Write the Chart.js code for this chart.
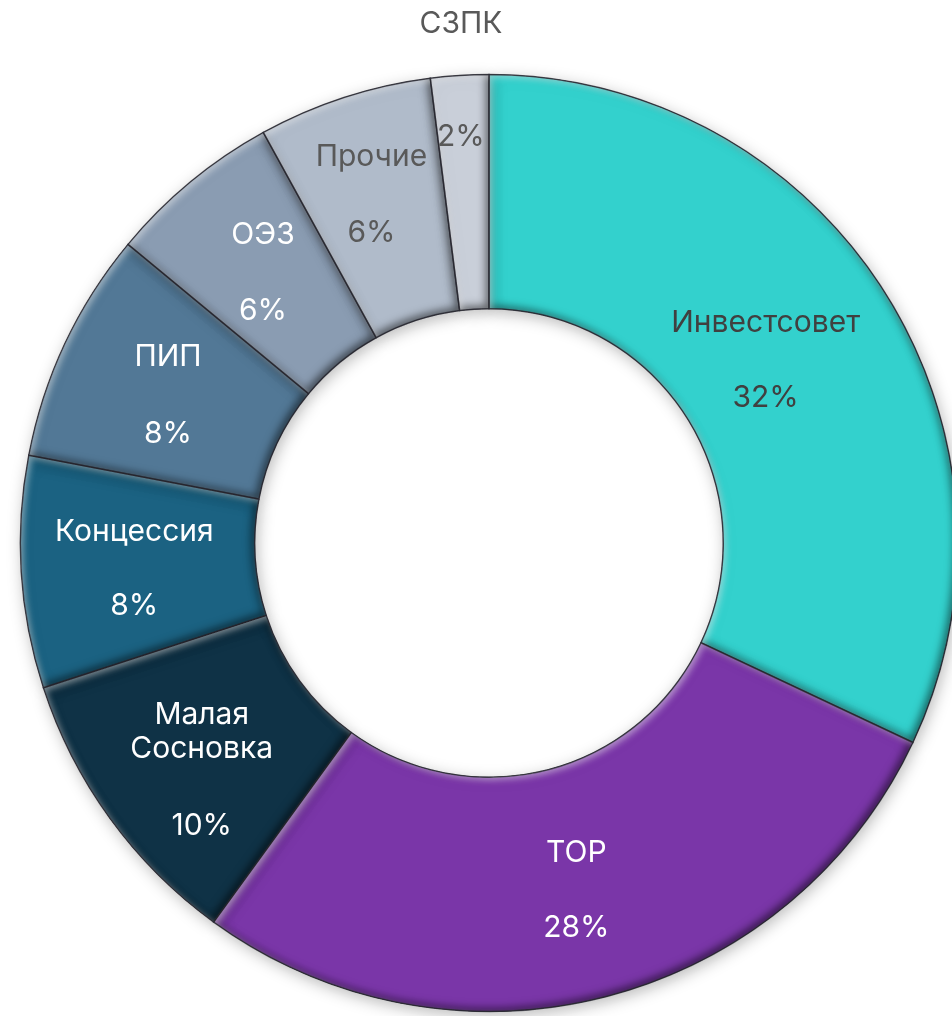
<!DOCTYPE html>
<html>
<head>
<meta charset="utf-8">
<script src="https://cdn.jsdelivr.net/npm/chart.js@4.4.1/dist/chart.umd.min.js"></script>
<style>
  html, body { margin: 0; padding: 0; background: #ffffff; overflow: hidden; }
  #wrap { position: relative; width: 970px; height: 1016px; }
</style>
</head>
<body>
<div id="wrap"><canvas id="chart"></canvas></div>
<script>
// ---- data ----
const categories = ['Инвестсовет', 'ТОР', 'Малая\nСосновка', 'Концессия', 'ПИП', 'ОЭЗ', 'Прочие', 'СЗПК'];
const shares = [32, 28, 10, 8, 8, 6, 6, 2];
const percentLabels = ['32%', '28%', '10%', '8%', '8%', '6%', '6%', '2%'];

// ---- styles ----
const sliceColors = ['#33D1CD', '#7A36A8', '#0F3246', '#1B6282', '#527896', '#8A9CB2', '#B0BBCA', '#C9CFD9'];
const textColors = ['#404040', '#ffffff', '#ffffff', '#ffffff', '#ffffff', '#ffffff', '#595959', '#595959'];
// label placement relative to arc centre (style, not data)
const labelPlace = [
  { dx: -20, nameDy: -32, pctDy: 43 },
  { dx: 0, nameDy: -30, pctDy: 45 },
  { dx: -3, nameDy: -35, pctDy: 76 },
  { dx: -4, nameDy: -33, pctDy: 41 },
  { dx: -3, nameDy: -36, pctDy: 41 },
  { dx: -2, nameDy: -37, pctDy: 39 },
  { dx: -9, nameDy: -52, pctDy: 24 },
  { dx: -6, nameDy: -168, pctDy: -55 }
];
const FONT = '30px Inter, "Noto Sans", sans-serif';

function addArc(ctx, a) {
  ctx.moveTo(a.x + a.outerRadius * Math.cos(a.startAngle), a.y + a.outerRadius * Math.sin(a.startAngle));
  ctx.arc(a.x, a.y, a.outerRadius, a.startAngle, a.endAngle, false);
  ctx.arc(a.x, a.y, a.innerRadius, a.endAngle, a.startAngle, true);
  ctx.closePath();
}

const bevelPlugin = {
  id: 'bevel',
  beforeDatasetsDraw(chart) {
    const ctx = chart.ctx;
    ctx.save();
    ctx.shadowColor = 'rgba(0,0,0,0.28)';
    ctx.shadowBlur = 16;
    ctx.shadowOffsetX = 2;
    ctx.shadowOffsetY = 4;
  },
  afterDatasetsDraw(chart) {
    const ctx = chart.ctx;
    ctx.restore();
    const arcs = chart.getDatasetMeta(0).data;
    arcs.forEach(el => {
      const a = el.getProps(['x', 'y', 'startAngle', 'endAngle', 'innerRadius', 'outerRadius'], true);
      const passes = [
        { color: 'rgba(0,0,0,0.55)', ox: -3, oy: -3, blur: 9 },
        { color: 'rgba(255,255,255,0.45)', ox: 3, oy: 3, blur: 6 }
      ];
      passes.forEach(p => {
        ctx.save();
        ctx.beginPath();
        addArc(ctx, a);
        ctx.clip();
        ctx.beginPath();
        ctx.rect(-2000, -2000, 5000, 5000);
        addArc(ctx, a);
        ctx.shadowColor = p.color;
        ctx.shadowBlur = p.blur;
        ctx.shadowOffsetX = p.ox;
        ctx.shadowOffsetY = p.oy;
        ctx.fillStyle = '#000';
        ctx.fill('evenodd');
        ctx.restore();
      });
      ctx.save();
      ctx.beginPath();
      addArc(ctx, a);
      ctx.lineWidth = 1.5;
      ctx.strokeStyle = 'rgba(40,40,50,0.7)';
      ctx.stroke();
      ctx.restore();
    });
  }
};

const labelPlugin = {
  id: 'sliceLabels',
  afterDraw(chart) {
    const ctx = chart.ctx;
    const arcs = chart.getDatasetMeta(0).data;
    ctx.save();
    ctx.font = FONT;
    ctx.textAlign = 'center';
    ctx.textBaseline = 'middle';
    arcs.forEach((el, i) => {
      const c = el.tooltipPosition(true);
      const pl = labelPlace[i];
      const x = c.x + pl.dx;
      ctx.fillStyle = textColors[i];
      const lines = chart.data.labels[i].split('\n');
      lines.forEach((ln, k) => {
        ctx.fillText(ln, x, c.y + pl.nameDy + k * 34);
      });
      ctx.fillText(percentLabels[i], x, c.y + pl.pctDy);
    });
    ctx.restore();
  }
};

new Chart(document.getElementById('chart'), {
  type: 'doughnut',
  data: {
    labels: categories,
    datasets: [{
      data: shares,
      backgroundColor: sliceColors,
      borderColor: 'rgba(60,60,70,0.6)',
      borderWidth: 1,
      hoverOffset: 0
    }]
  },
  options: {
    responsive: true,
    maintainAspectRatio: false,
    animation: false,
    events: [],
    cutout: '50%',
    rotation: 0,
    layout: { padding: { top: 74, bottom: 4, left: 20, right: 12 } },
    plugins: {
      legend: { display: false },
      tooltip: { enabled: false }
    }
  },
  plugins: [bevelPlugin, labelPlugin]
});
</script>
</body>
</html>
